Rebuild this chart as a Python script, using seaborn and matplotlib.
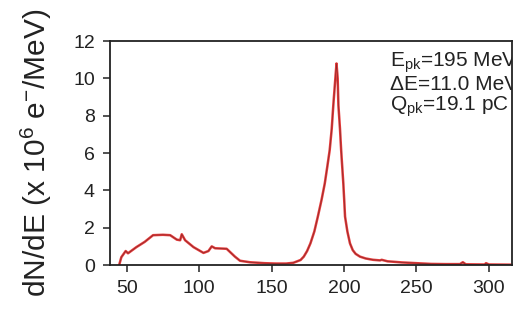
import numpy as np
import pandas as pd
import matplotlib
matplotlib.use("Agg")
import matplotlib.pyplot as plt
import seaborn as sns

energy = [44.8, 46.3, 49.3, 50.9, 56.7, 62.4, 68.2, 75.0, 80.0, 84.6, 86.9, 88.0, 90.3,
          96.1, 103.0, 106.4, 108.7, 111.0, 119.0, 124.7, 128.2, 135.0, 145.0, 153.0,
          160.0, 165.0, 170.0, 172.2, 174.5, 176.8, 179.5, 181.9, 184.5, 186.7, 188.5,
          190.1, 191.5, 192.6, 193.8, 194.8, 195.6, 196.1, 197.2, 198.0, 198.8, 199.5,
          200.1, 200.7, 202.3, 204.1, 206.0, 208.0, 211.0, 215.0, 220.0, 224.8, 226.0,
          230.0, 240.0, 250.0, 260.0, 270.0, 280.0, 282.0, 284.0, 297.0, 298.0, 300.0, 315.0]
dnde = [0.0, 0.42, 0.75, 0.63, 0.96, 1.24, 1.6, 1.62, 1.6, 1.36, 1.33, 1.65, 1.33,
        0.96, 0.65, 0.75, 1.0, 0.9, 0.87, 0.45, 0.23, 0.15, 0.1, 0.08,
        0.08, 0.12, 0.27, 0.45, 0.75, 1.16, 1.8, 2.59, 3.5, 4.37, 5.3,
        6.16, 7.3, 8.57, 9.8, 10.8, 10.0, 8.57, 7.3, 6.16, 5.2, 4.37,
        3.5, 2.59, 1.8, 1.16, 0.8, 0.6, 0.45, 0.35, 0.28, 0.25, 0.28,
        0.2, 0.14, 0.1, 0.06, 0.05, 0.05, 0.15, 0.04, 0.03, 0.1, 0.03, 0.02]

xticks = [50, 100, 150, 200, 250, 300]
yticks = [0, 2, 4, 6, 8, 10, 12]
annot_lines = ["E$_{\\mathrm{pk}}$=195 MeV", "ΔE=11.0 MeV", "Q$_{\\mathrm{pk}}$=19.1 pC"]

sns.set_theme(style="ticks")
plt.rcParams['font.family'] = ['Liberation Sans', 'DejaVu Sans']
plt.rcParams['mathtext.fontset'] = 'custom'
plt.rcParams['mathtext.rm'] = 'Liberation Sans'
plt.rcParams['mathtext.it'] = 'Liberation Sans'

df = pd.DataFrame({"E": energy, "dNdE": dnde})

fig = plt.figure(figsize=(5.29, 3.26), dpi=100)
ax = fig.add_axes([0.208, 0.187, 0.759, 0.687])
sns.lineplot(data=df, x="E", y="dNdE", ax=ax, color="#e63c3c", linewidth=1.8, sort=False)
sns.lineplot(data=df, x="E", y="dNdE", ax=ax, color="#8a2a2a", linewidth=0.5, sort=False)

ax.set_xlim(38.5, 315.6)
ax.set_ylim(0, 12)
ax.set_xticks(xticks)
ax.set_yticks(yticks)
for s in ax.spines.values():
    s.set_visible(True)
    s.set_color("#222222")
    s.set_linewidth(1.3)
ax.tick_params(direction="out", length=5, width=1.1, labelsize=14, color="#222222",
               labelcolor="#222222", pad=6)
ax.set_xlabel("")
ax.set_ylabel("dN/dE (x 10$^{6}$ e$^{-}$/MeV)", fontsize=21.5, color="#222222", labelpad=14)

y0 = 0.905
for i, t in enumerate(annot_lines):
    ax.text(0.697, y0 - i * 0.1, t, transform=ax.transAxes, fontsize=15, color="#222222",
            va="center", ha="left", clip_on=True)

fig.savefig("out.png", dpi=100)
